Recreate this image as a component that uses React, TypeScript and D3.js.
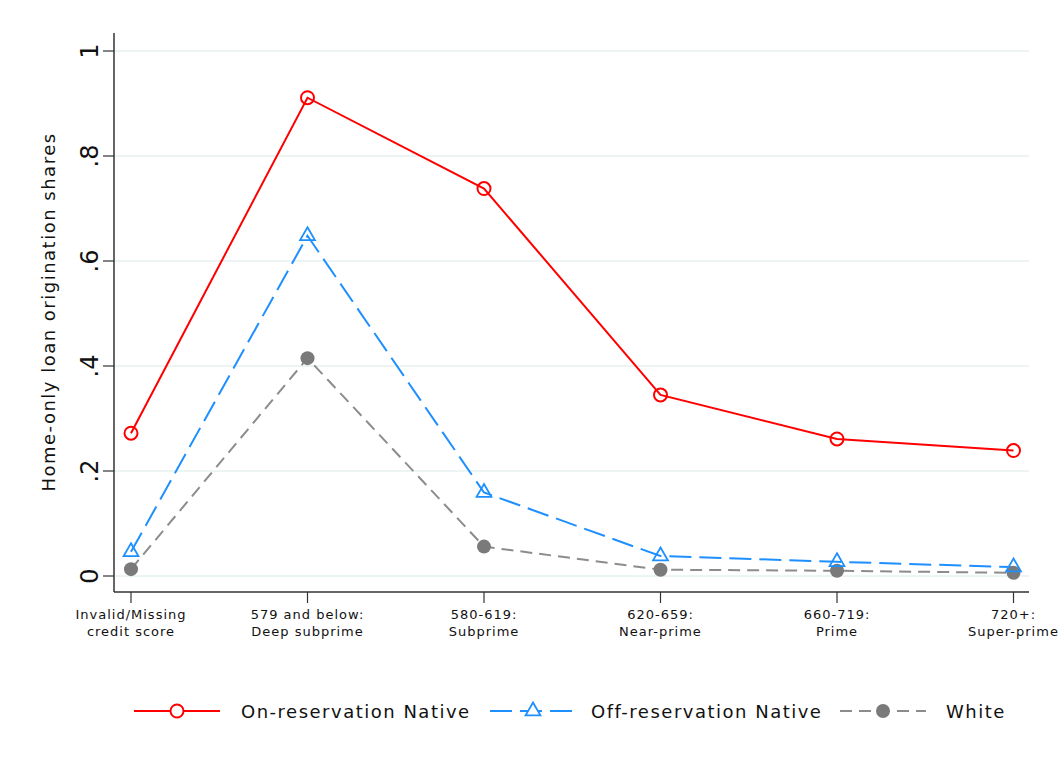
import React from "react";
import * as d3 from "d3";

const categories = ["Invalid/Missing|credit score", "579 and below:|Deep subprime", "580-619:|Subprime", "620-659:|Near-prime", "660-719:|Prime", "720+:|Super-prime"];
const onReservation = [0.272, 0.911, 0.738, 0.345, 0.261, 0.239];
const offReservation = [0.046, 0.648, 0.159, 0.038, 0.027, 0.017];
const white = [0.013, 0.415, 0.056, 0.012, 0.010, 0.006];
const yTicks = [0, 0.2, 0.4, 0.6, 0.8, 1];
const yTickLabels = ["0", ".2", ".4", ".6", ".8", "1"];
const legendLabels = ["On-reservation Native", "Off-reservation Native", "White"];

const W = 1058, H = 767;
const FONT = "DejaVu Sans, Verdana, sans-serif";

export default function App() {
  const x = d3.scalePoint<string>().domain(categories).range([131, 1013.5]);
  const y = d3.scaleLinear().domain([0, 1]).range([576, 51]);
  const line = d3.line<number>().x((_, i) => x(categories[i]) as number).y((d) => y(d));
  const tri = d3.symbol().type(d3.symbolTriangle).size(95)() as string;

  const red = "#ff0000", blue = "#1e8fff", gray = "#8c8c8c", grayMark = "#7a7a7a";

  return (
    <svg width={W} height={H} style={{ position: "absolute", left: 0, top: 0, background: "#fff" }} fontFamily={FONT}>
      <rect x={0} y={0} width={W} height={H} fill="#fff" />
      {yTicks.map((t) => (
        <line key={"g" + t} x1={114} x2={1029} y1={y(t)} y2={y(t)} stroke="#e6f0f1" strokeWidth={1.5} />
      ))}
      <line x1={114} x2={114} y1={33} y2={592} stroke="#333" strokeWidth={1.5} />
      <line x1={114} x2={1029} y1={592} y2={592} stroke="#333" strokeWidth={1.5} />
      {yTicks.map((t, i) => (
        <g key={"yt" + t}>
          <line x1={103} x2={114} y1={y(t)} y2={y(t)} stroke="#333" strokeWidth={1.2} />
          <text transform={`translate(98,${y(t)}) rotate(-90)`} textAnchor="middle" fontSize={24} fill="#111">
            {yTickLabels[i]}
          </text>
        </g>
      ))}
      <text transform={`translate(55,312) rotate(-90)`} textAnchor="middle" fontSize={18} letterSpacing={1.5} fill="#111">
        Home-only loan origination shares
      </text>
      {categories.map((c) => {
        const [a, b] = c.split("|");
        const cx = x(c) as number;
        return (
          <g key={c}>
            <line x1={cx} x2={cx} y1={592} y2={603} stroke="#333" strokeWidth={1.2} />
            <text x={cx} y={619} textAnchor="middle" fontSize={13} letterSpacing={1} fill="#111">{a}</text>
            <text x={cx} y={636} textAnchor="middle" fontSize={13} letterSpacing={1} fill="#111">{b}</text>
          </g>
        );
      })}
      <path d={line(white) as string} fill="none" stroke={gray} strokeWidth={2} strokeDasharray="12,7" />
      <path d={line(offReservation) as string} fill="none" stroke={blue} strokeWidth={2} strokeDasharray="22,8" />
      <path d={line(onReservation) as string} fill="none" stroke={red} strokeWidth={2} />
      {white.map((v, i) => (
        <circle key={"w" + i} cx={x(categories[i])} cy={y(v)} r={7} fill={grayMark} />
      ))}
      {offReservation.map((v, i) => (
        <path key={"o" + i} d={tri} transform={`translate(${x(categories[i])},${y(v)})`} fill="none" stroke={blue} strokeWidth={1.8} />
      ))}
      {onReservation.map((v, i) => (
        <circle key={"r" + i} cx={x(categories[i])} cy={y(v)} r={6.5} fill="none" stroke={red} strokeWidth={2} />
      ))}
      <g>
        <line x1={134} x2={220} y1={711} y2={711} stroke={red} strokeWidth={2} />
        <circle cx={177} cy={711} r={6.5} fill="#fff" stroke={red} strokeWidth={2} />
        <text x={241} y={718} fontSize={18} letterSpacing={1.5} fill="#111">{legendLabels[0]}</text>

        <line x1={490} x2={576} y1={711} y2={711} stroke={blue} strokeWidth={2} strokeDasharray="22,8" />
        <path d={tri} transform="translate(533,711)" fill="#fff" stroke={blue} strokeWidth={1.8} />
        <text x={591} y={718} fontSize={18} letterSpacing={1.5} fill="#111">{legendLabels[1]}</text>

        <line x1={840} x2={926} y1={711} y2={711} stroke={gray} strokeWidth={2} strokeDasharray="12,7" />
        <circle cx={883} cy={711} r={7} fill={grayMark} />
        <text x={946} y={718} fontSize={18} letterSpacing={1.5} fill="#111">{legendLabels[2]}</text>
      </g>
    </svg>
  );
}
